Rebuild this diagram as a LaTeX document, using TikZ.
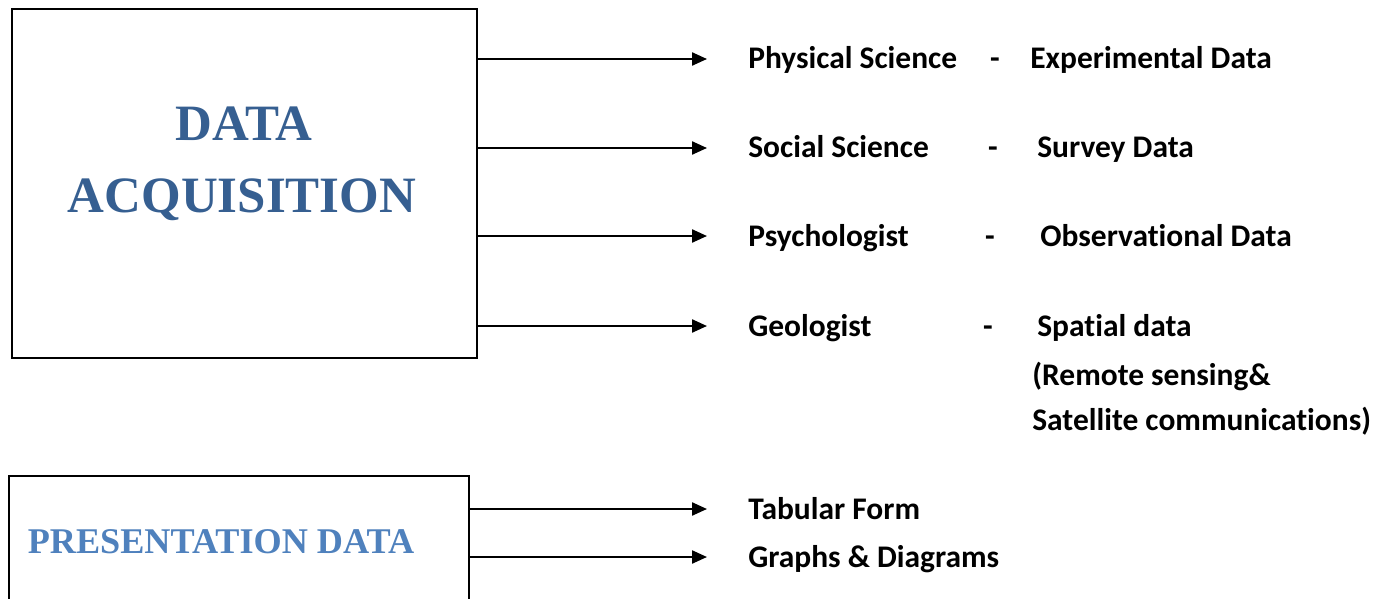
\documentclass[tikz,border=0pt]{standalone}
\usepackage{fontspec}
\setmainfont{Carlito}[Ligatures=CommonOff]
\newfontfamily\headfont{Liberation Serif}
\usetikzlibrary{arrows.meta}
\definecolor{headblue}{HTML}{365F91}
\definecolor{lightblue}{HTML}{4F81BD}

\begin{document}
\begin{tikzpicture}
  [x=0.02cm,y=-0.02cm,every node/.style={inner sep=0pt},
   lbl/.style={anchor=west,font=\bfseries\fontsize{17.9}{21}\selectfont,text height=0.4cm,text depth=0pt},
   hyph/.style={anchor=center,font=\bfseries\fontsize{17.9}{21}\selectfont,text height=0.4cm,text depth=0pt},
   box/.style={draw,line width=0.04cm,anchor=north west},
   arr/.style={line width=0.045cm,-{Triangle[length=0.3cm,width=0.26cm]},shorten >=0.82cm}]
  \clip (0,0) rectangle (1385,598);
  \node[box, minimum width=9.3cm, minimum height=6.98cm] (acq) at (11,8) {};
  \node[box, minimum width=9.2cm, minimum height=3cm] (pres) at (8,475) {};
  \node[anchor=base, text=headblue, font=\headfont\bfseries\fontsize{29}{34}\selectfont] (acqa) at (244,140) {DATA};
  \node[anchor=base, text=headblue, font=\headfont\bfseries\fontsize{29}{34}\selectfont] (acqb) at (242,212) {ACQUISITION};
  \node[anchor=base, text=lightblue, font=\headfont\bfseries\fontsize{20.6}{24}\selectfont] (prest) at (221,553) {PRESENTATION DATA};

  \node[lbl] (phys) at (748,59) {Physical Science};
  \node[lbl] (soc) at (748,148) {Social Science};
  \node[lbl] (psy) at (748,236) {Psychologist};
  \node[lbl] (geo) at (748,326) {Geologist};
  \node[hyph] (physd) at (995,59) {-};
  \node[hyph] (socd) at (993,148) {-};
  \node[hyph] (psyd) at (990,236) {-};
  \node[hyph] (geod) at (988,326) {-};
  \node[lbl] (exp) at (1030,59) {Experimental Data};
  \node[lbl] (surv) at (1037,148) {Survey Data};
  \node[lbl] (obs) at (1040,236) {Observational Data};
  \node[lbl] (spat) at (1037,326) {Spatial data};
  \node[lbl] (remote) at (1032,375) {(Remote sensing\&};
  \node[lbl] (sat) at (1032,420) {Satellite communications)};
  \node[lbl] (tab) at (748,509) {Tabular Form};
  \node[lbl] (graph) at (748,557) {Graphs \& Diagrams};

  \foreach \n in {phys,soc,psy,geo}
    \draw[arr] (acq.east |- \n.west) -- (\n.west);
  \foreach \n in {tab,graph}
    \draw[arr] (pres.east |- \n.west) -- (\n.west);
\end{tikzpicture}
\end{document}
